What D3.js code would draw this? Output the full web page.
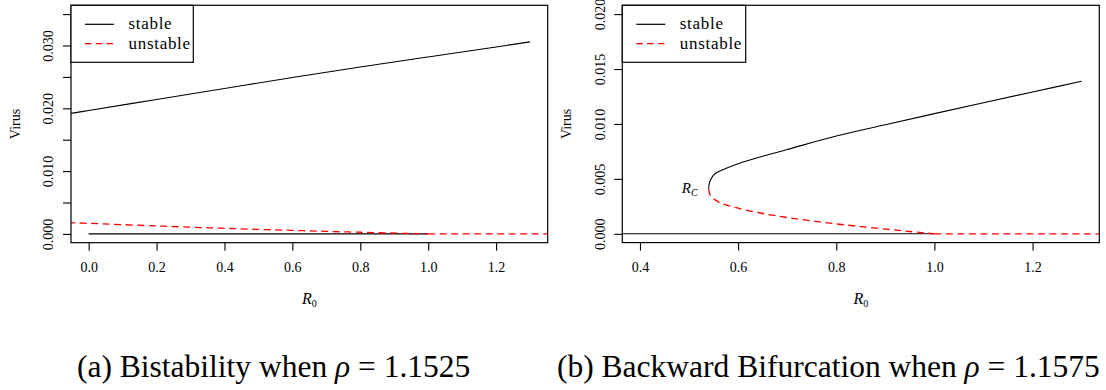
<!DOCTYPE html>
<html><head><meta charset="utf-8">
<script src="https://cdn.jsdelivr.net/npm/d3@7/dist/d3.min.js"></script>
<style>
body{margin:0;background:#fff}
svg{display:block}
text{font-family:"Liberation Serif","DejaVu Serif",serif;fill:#000}
</style>
</head><body>
<svg id="c" width="1106" height="390"></svg>
<script>
// ---------- Panel (a) data ----------
const aXTicks = [0, 0.2, 0.4, 0.6, 0.8, 1.0, 1.2];
const aXTickLabels = ["0.0", "0.2", "0.4", "0.6", "0.8", "1.0", "1.2"];
const aYTicks = [0, 0.005, 0.010, 0.015, 0.020, 0.025, 0.030, 0.035];
const aYTickLabels = ["0.000", "", "0.010", "", "0.020", "", "0.030", ""];
const aStableHighR0 = [-0.06, 0, 0.2, 0.4, 0.6, 0.8, 1.0, 1.2, 1.3];
const aStableHighV  = [0.01913, 0.01965, 0.02141, 0.02316, 0.02490, 0.02657, 0.02818, 0.02977, 0.03057];
const aUnstableR0 = [-0.06, 0, 0.2, 0.4, 0.6, 0.8, 1.0];
const aUnstableV  = [0.00180, 0.00168, 0.00127, 0.00089, 0.00056, 0.00026, 0];
const aStableZeroR0 = [0, 1.0];
const aStableZeroV  = [0, 0];
const aUnstableZeroR0 = [1.0, 1.45];
const aUnstableZeroV  = [0, 0];

// ---------- Panel (b) data ----------
const bXTicks = [0.4, 0.6, 0.8, 1.0, 1.2];
const bXTickLabels = ["0.4", "0.6", "0.8", "1.0", "1.2"];
const bYTicks = [0, 0.005, 0.010, 0.015, 0.020];
const bYTickLabels = ["0.000", "0.005", "0.010", "0.015", "0.020"];
const bStableHighR0 = [0.5400, 0.5405, 0.542, 0.545, 0.550, 0.560, 0.576, 0.600, 0.650, 0.700, 0.800, 0.900, 1.000, 1.100, 1.200, 1.300];
const bStableHighV  = [0.0041, 0.0044, 0.0047, 0.0050, 0.00535, 0.00565, 0.00597, 0.00638, 0.00706, 0.00767, 0.00890, 0.00993, 0.01094, 0.01193, 0.01291, 0.01388];
const bUnstableR0 = [0.5400, 0.5415, 0.549, 0.565, 0.600, 0.650, 0.700, 0.750, 0.800, 0.850, 0.900, 0.950, 1.000];
const bUnstableV  = [0.0041, 0.0037, 0.00324, 0.0028, 0.00233, 0.00185, 0.00148, 0.00118, 0.00090, 0.00066, 0.00043, 0.00021, 0];
const bStableZeroR0 = [0.3, 1.0];
const bStableZeroV  = [0, 0];
const bUnstableZeroR0 = [1.0, 1.45];
const bUnstableZeroV  = [0, 0];

const legendLabels = ["stable", "unstable"];
const captions = ["(a) Bistability when ", "(b) Backward Bifurcation when "];
const rhoValues = ["1.1525", "1.1575"];

const svg = d3.select("#c");
const fam = '"Liberation Serif","DejaVu Serif",serif';

function zip(xs, ys){ return xs.map((x,i)=>[x, ys[i]]); }
function ext(lo, hi){ const d=(hi-lo)*0.04; return [lo-d, hi+d]; }

function drawPanel(cfg, idx){
  const g = svg.append("g");
  const x = d3.scaleLinear().domain(ext(cfg.xlim[0], cfg.xlim[1])).range([cfg.left, cfg.right]);
  const y = d3.scaleLinear().domain(ext(cfg.ylim[0], cfg.ylim[1])).range([cfg.bottom, cfg.top]);

  const clipId = "clip"+idx;
  svg.append("defs").append("clipPath").attr("id", clipId)
    .append("rect").attr("x", cfg.left).attr("y", cfg.top)
    .attr("width", cfg.right-cfg.left).attr("height", cfg.bottom-cfg.top);

  const plot = g.append("g").attr("clip-path", `url(#${clipId})`);
  cfg.series.forEach(s=>{
    const line = d3.line().x(d=>x(d[0])).y(d=>y(d[1]))
      .curve(s.smooth ? d3.curveCatmullRom.alpha(0.5) : d3.curveLinear);
    plot.append("path").datum(zip(s.x, s.y))
      .attr("d", line).attr("fill","none")
      .attr("stroke", s.color).attr("stroke-width", s.dash ? 1.3 : 1.1)
      .attr("stroke-dasharray", s.dash ? "7,4.5" : null);
  });

  // box
  g.append("rect").attr("x", cfg.left).attr("y", cfg.top)
    .attr("width", cfg.right-cfg.left).attr("height", cfg.bottom-cfg.top)
    .attr("fill","none").attr("stroke","#000").attr("stroke-width",1.2);

  // x axis
  const xa = g.append("g").attr("transform", `translate(0,${cfg.bottom})`)
    .call(d3.axisBottom(x).tickValues(cfg.xTicks).tickSize(8).tickPadding(0)
      .tickFormat((d,i)=>cfg.xTickLabels[i]));
  xa.attr("font-family", null);
  xa.select(".domain").remove();
  xa.selectAll(".tick line").attr("stroke","#000").attr("stroke-width",1.1);
  xa.selectAll(".tick text").attr("y", 29.6).attr("dy", 0)
    .style("font-size","14px").style("font-family",fam);

  // y axis
  const ya = g.append("g").attr("transform", `translate(${cfg.left},0)`)
    .call(d3.axisLeft(y).tickValues(cfg.yTicks).tickSize(8)
      .tickFormat((d,i)=>cfg.yTickLabels[i]));
  ya.attr("font-family", null);
  ya.select(".domain").remove();
  ya.selectAll(".tick line").attr("stroke","#000").attr("stroke-width",1.1);
  ya.selectAll(".tick text").attr("transform","rotate(-90)")
    .attr("x",0).attr("y",-17.8).attr("dy",0).attr("text-anchor","middle")
    .style("font-size","14px").style("font-family",fam);

  // axis titles
  g.append("text").attr("transform", `translate(${cfg.left-51},${(cfg.top+cfg.bottom)/2}) rotate(-90)`)
    .attr("text-anchor","middle").style("font-size","14px").text("Virus");
  const xt = g.append("text").attr("x",(cfg.left+cfg.right)/2).attr("y",304)
    .attr("text-anchor","middle").style("font-size","16px");
  xt.append("tspan").style("font-style","italic").text("R");
  xt.append("tspan").attr("dy",3).style("font-size","10px").text("0");

  // legend
  const lx = cfg.left, ly = cfg.top;
  g.append("rect").attr("x",lx).attr("y",ly).attr("width",cfg.legendW).attr("height",57)
    .attr("fill","#fff").attr("stroke","#000").attr("stroke-width",1.2);
  const legColors = ["#000","#ff0000"];
  legendLabels.forEach((lab,i)=>{
    const yy = ly + 19 + i*19.4;
    g.append("line").attr("x1",lx+14).attr("x2",lx+43).attr("y1",yy).attr("y2",yy)
      .attr("stroke",legColors[i]).attr("stroke-width",1.2)
      .attr("stroke-dasharray", i===1 ? "6.5,4.3" : null);
    g.append("text").attr("x",lx+57.5).attr("y",yy+5).style("font-size","17px")
      .style("letter-spacing","0.7px").text(lab);
  });

  // caption
  const cap = g.append("text").attr("x",cfg.capX).attr("y",377).style("font-size","31.5px");
  cap.append("tspan").text(captions[idx]);
  cap.append("tspan").style("font-style","italic").text("ρ");
  cap.append("tspan").text(" = " + rhoValues[idx]);

  return {g, x, y};
}

const red = "#ff0000";
drawPanel({
  left:71, right:547.7, top:5.3, bottom:242.7,
  xlim:[0,1.3], ylim:[0,0.035],
  xTicks:aXTicks, xTickLabels:aXTickLabels, yTicks:aYTicks, yTickLabels:aYTickLabels,
  legendW:122.3, capX:77,
  series:[
    {x:aStableZeroR0, y:aStableZeroV, color:"#000"},
    {x:aStableHighR0, y:aStableHighV, color:"#000", smooth:true},
    {x:aUnstableR0, y:aUnstableV, color:red, dash:true, smooth:true},
    {x:aUnstableZeroR0, y:aUnstableZeroV, color:red, dash:true}
  ]
}, 0);

const pb = drawPanel({
  left:622.3, right:1099.3, top:5.3, bottom:242.6,
  xlim:[0.4,1.3], ylim:[0,0.02],
  xTicks:bXTicks, xTickLabels:bXTickLabels, yTicks:bYTicks, yTickLabels:bYTickLabels,
  legendW:123.4, capX:557,
  series:[
    {x:bStableZeroR0, y:bStableZeroV, color:"#000"},
    {x:bStableHighR0, y:bStableHighV, color:"#000", smooth:true},
    {x:bUnstableR0, y:bUnstableV, color:red, dash:true, smooth:true},
    {x:bUnstableZeroR0, y:bUnstableZeroV, color:red, dash:true}
  ]
}, 1);

// R_C annotation at the turning point
const rc = pb.g.append("text").attr("x", pb.x(bStableHighR0[0]) - 11).attr("y", pb.y(bStableHighV[0]) + 4)
  .attr("text-anchor","end").style("font-size","15px");
rc.append("tspan").style("font-style","italic").text("R");
rc.append("tspan").attr("dy",3).style("font-size","10px").style("font-style","italic").text("C");
</script>
</body></html>
